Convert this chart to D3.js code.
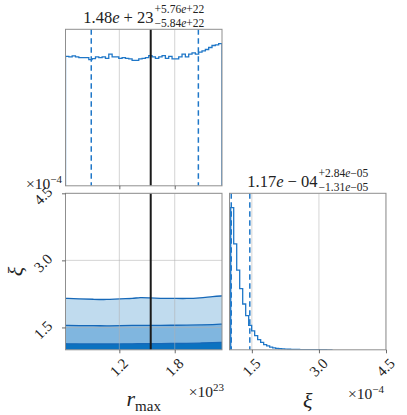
<!DOCTYPE html>
<html>
<head>
<meta charset="utf-8">
<script src="https://cdn.jsdelivr.net/npm/d3@7"></script>
<style>
  body { margin: 0; background: #fff; }
  #wrap { position: relative; width: 407px; height: 415px; }
  svg { display: block; font-family: "Liberation Serif", "DejaVu Serif", serif; }
  .rot { position: absolute; left: 0; top: 0; white-space: nowrap; line-height: 1;
         font-family: "Liberation Serif", "DejaVu Serif", serif; color: #222; transform-origin: 50% 50%; }
</style>
</head>
<body>
<div id="wrap"><svg id="chart" width="407" height="415"></svg></div>
<script>
// ---- data ----
// r_max histogram (units of 1e23), 47 equal bins over the axis range
const rmaxRange = [0.617, 2.312];
const rmaxCounts = [910, 906, 913, 906, 901, 901, 901, 887, 894, 906, 901, 906, 896, 925, 906, 906,
  896, 901, 896, 892, 882, 882, 892, 896, 901, 915, 906, 896, 906, 915, 896, 910, 892, 892, 906,
  925, 906, 925, 934, 925, 939, 948, 958, 972, 986, 990, 1000];
const rmaxQuantiles = [0.896, 2.056];
const rmaxTruth = 1.54;

// xi histogram (units of 1e-4)
const xiRange = [1.0, 4.5];
const xiBinStart = 1.027;
const xiBinWidth = 0.067;
const xiCounts = [1000, 745, 560, 430, 322, 240, 172, 133, 100, 72, 52, 37, 27, 19, 14, 10, 8, 6,
  5, 4, 3, 2.5, 2, 1.5, 1.2, 1, 0.8, 0.6, 0.5, 0.4, 0.3, 0.2, 0.1, 0];
const xiQuantiles = [1.039, 1.454];

// 2D contour levels (upper edge of each filled band) along r_max
const contourR = [0.617, 0.77, 0.92, 1.06, 1.21, 1.35, 1.42, 1.53, 1.64, 1.79, 1.93, 2.07, 2.22, 2.312];
const contourOuter = [2.15, 2.14, 2.13, 2.12, 2.145, 2.145, 2.175, 2.16, 2.15, 2.15, 2.145, 2.16, 2.195, 2.205];
const contourMid = [1.545, 1.54, 1.54, 1.535, 1.54, 1.545, 1.55, 1.545, 1.545, 1.55, 1.55, 1.555, 1.565, 1.575];
const contourInner = [1.135, 1.13, 1.13, 1.13, 1.13, 1.135, 1.135, 1.135, 1.14, 1.14, 1.145, 1.15, 1.16, 1.165];

const rmaxTicks = [1.2, 1.8];
const xiTicks = [1.5, 3.0, 4.5];

const rmaxTitle = { main: ["1.48", "e", " + 23"], sup: ["+5.76", "e", "+22"], sub: ["\u22125.84", "e", "+22"] };
const xiTitle = { main: ["1.17", "e", " \u2212 04"], sup: ["+2.84", "e", "\u221205"], sub: ["\u22121.31", "e", "\u221205"] };

// ---- layout ----
const size = 156.5;
const padLeft = 65.5, padTop = 29.3, gap = 7.5;
const blue = "#1f77c8";
const ink = "#222";
const svg = d3.select("#chart");
const wrap = d3.select("#wrap");
const fmt = d3.format(".1f");

const p1 = { x: padLeft, y: padTop };
const p2 = { x: padLeft, y: padTop + size + gap };
const p3 = { x: padLeft + size + gap, y: padTop + size + gap };

const xR = d3.scaleLinear().domain(rmaxRange).range([0, size]);
const xXi = d3.scaleLinear().domain(xiRange).range([0, size]);
const yXi = d3.scaleLinear().domain(xiRange).range([size, 0]);
const yH1 = d3.scaleLinear().domain([0, d3.max(rmaxCounts) * 1.1]).range([size, 0]);
const yH3 = d3.scaleLinear().domain([0, d3.max(xiCounts) * 1.1]).range([size, 0]);

function panel(p, id) {
  svg.append("clipPath").attr("id", id).append("rect").attr("width", size).attr("height", size);
  const g = svg.append("g").attr("transform", `translate(${p.x},${p.y})`);
  const inner = g.append("g").attr("clip-path", `url(#${id})`);
  return { g, inner };
}

function grid(g, xs, xScale, ys, yScale) {
  xs.forEach((v) => g.append("line").attr("x1", xScale(v)).attr("x2", xScale(v))
    .attr("y1", 0).attr("y2", size).attr("stroke", "#b0b0b0").attr("stroke-opacity", 0.55).attr("stroke-width", 1));
  ys.forEach((v) => g.append("line").attr("y1", yScale(v)).attr("y2", yScale(v))
    .attr("x1", 0).attr("x2", size).attr("stroke", "#b0b0b0").attr("stroke-opacity", 0.55).attr("stroke-width", 1));
}

function frame(g) {
  g.append("rect").attr("width", size).attr("height", size)
    .attr("fill", "none").attr("stroke", "#8f8f8f").attr("stroke-width", 1);
}

function vline(g, x, color, width, dash) {
  g.append("line").attr("x1", x).attr("x2", x).attr("y1", 0).attr("y2", size)
    .attr("stroke", color).attr("stroke-width", width).attr("stroke-dasharray", dash);
}

function stepPath(counts, start, width, xScale, yScale) {
  const pts = [[start, 0]];
  counts.forEach((c, i) => {
    pts.push([start + i * width, c]);
    pts.push([start + (i + 1) * width, c]);
  });
  pts.push([start + counts.length * width, 0]);
  return d3.line().x((d) => xScale(d[0])).y((d) => yScale(d[1]))(pts);
}

function styleAxis(sel) {
  sel.select(".domain").remove();
  sel.selectAll(".tick line").attr("stroke", "#444").attr("stroke-width", 0.8);
  sel.selectAll(".tick text").remove();
}

// rotated labels as html boxes laid over the svg, centred on (x, y) page coords
function rotText(x, y, angle, str, fs, italic) {
  wrap.append("div").attr("class", "rot")
    .style("font-size", fs + "px").style("font-style", italic ? "italic" : "normal")
    .style("transform", `translate(${x}px,${y}px) translate(-50%,-50%) rotate(${angle}deg)`)
    .text(str);
}

function bottomLabels(p, ticks, scale) {
  ticks.forEach((v) => rotText(p.x + scale(v), p.y + size + 18, -45, fmt(v), 15));
}
function leftLabels(p, ticks, scale) {
  ticks.forEach((v) => rotText(p.x - 22, p.y + scale(v) + 3, -45, fmt(v), 15));
}

// ---- panel 1: r_max histogram ----
const a = panel(p1, "c1");
grid(a.inner, rmaxTicks, xR, [], null);
const w1 = (rmaxRange[1] - rmaxRange[0]) / rmaxCounts.length;
a.inner.append("path").attr("d", stepPath(rmaxCounts, rmaxRange[0], w1, xR, yH1))
  .attr("fill", "none").attr("stroke", blue).attr("stroke-width", 1.3);
rmaxQuantiles.forEach((q) => vline(a.inner, xR(q), blue, 1.5, "5.5,3.5"));
vline(a.inner, xR(rmaxTruth), "#1a1a1a", 2, null);
frame(a.g);
a.g.append("g").attr("transform", `translate(0,${size})`)
  .call(d3.axisBottom(xR).tickValues(rmaxTicks).tickSize(3.5))
  .call(styleAxis);

// ---- panel 2: 2D contours ----
const b = panel(p2, "c2");
const levels = [
  { data: contourOuter, fill: "#c0dbee" },
  { data: contourMid, fill: "#80b6df" },
  { data: contourInner, fill: "#0b72c0" }
];
levels.forEach((lv) => {
  const pts = contourR.map((r, i) => [r, lv.data[i]]);
  b.inner.append("path")
    .attr("d", d3.area().x((d) => xR(d[0])).y0(size).y1((d) => yXi(d[1])).curve(d3.curveBasis)(pts))
    .attr("fill", lv.fill);
  b.inner.append("path")
    .attr("d", d3.line().x((d) => xR(d[0])).y((d) => yXi(d[1])).curve(d3.curveBasis)(pts))
    .attr("fill", "none").attr("stroke", "#1668b8").attr("stroke-width", 1.3);
});
grid(b.inner, rmaxTicks, xR, xiTicks, yXi);
vline(b.inner, xR(rmaxTruth), "#1a1a1a", 2, null);
frame(b.g);
b.g.append("g").attr("transform", `translate(0,${size})`)
  .call(d3.axisBottom(xR).tickValues(rmaxTicks).tickSize(3.5))
  .call(styleAxis);
b.g.append("g")
  .call(d3.axisLeft(yXi).tickValues(xiTicks).tickSize(3.5))
  .call(styleAxis);
bottomLabels(p2, rmaxTicks, xR);
leftLabels(p2, xiTicks, yXi);

// ---- panel 3: xi histogram ----
const c = panel(p3, "c3");
grid(c.inner, xiTicks, xXi, [], null);
c.inner.append("path").attr("d", stepPath(xiCounts, xiBinStart, xiBinWidth, xXi, yH3))
  .attr("fill", "none").attr("stroke", blue).attr("stroke-width", 1.3);
xiQuantiles.forEach((q) => vline(c.inner, xXi(q), blue, 1.5, "5.5,3.5"));
frame(c.g);
c.g.append("g").attr("transform", `translate(0,${size})`)
  .call(d3.axisBottom(xXi).tickValues(xiTicks).tickSize(3.5))
  .call(styleAxis);
bottomLabels(p3, xiTicks, xXi);

// ---- titles with stacked super/subscripts ----
function mathText(parent, parts, x, y, fs) {
  const t = parent.append("text").attr("x", x).attr("y", y).attr("font-size", fs).attr("fill", ink);
  parts.forEach((s, i) => t.append("tspan").text(s).attr("font-style", i === 1 ? "italic" : null));
  return t;
}

function title(p, tt) {
  const cx = p.x + size / 2;
  const base = p.y - 6.5;
  const m = mathText(svg, tt.main, 0, base, 16.5);
  const sp = mathText(svg, tt.sup, 0, base - 9.5, 11.5);
  const sb = mathText(svg, tt.sub, 0, base + 4, 11.5);
  const mw = m.node().getComputedTextLength();
  const sw = Math.max(sp.node().getComputedTextLength(), sb.node().getComputedTextLength());
  const x0 = cx - (mw + sw + 1) / 2;
  m.attr("x", x0);
  sp.attr("x", x0 + mw + 1);
  sb.attr("x", x0 + mw + 1);
}
title(p1, rmaxTitle);
title(p3, xiTitle);

// ---- offset texts ----
function offsetText(x, y, exp) {
  const t = svg.append("text").attr("x", x).attr("y", y).attr("text-anchor", "end")
    .attr("font-size", 15.5).attr("fill", ink);
  t.append("tspan").text("\u00d710");
  t.append("tspan").text(exp).attr("font-size", 11).attr("dy", -6.5);
}
offsetText(62, 189, "\u22124");
offsetText(p2.x + size + 2, 397, "23");
offsetText(p3.x + size - 2, 399, "\u22124");

// ---- axis labels ----
const rl = svg.append("text").attr("x", p2.x + size / 2).attr("y", 406)
  .attr("text-anchor", "middle").attr("fill", ink).attr("font-size", 22);
rl.append("tspan").text("r").attr("font-style", "italic");
rl.append("tspan").text("max").attr("font-size", 15).attr("dy", 5);

svg.append("text").attr("x", p3.x + size / 2).attr("y", 408).attr("text-anchor", "middle")
  .attr("font-size", 22).attr("font-style", "italic").attr("fill", ink).text("\u03be");

rotText(16, p2.y + size / 2, -90, "\u03be", 22, true);
</script>
</body>
</html>
